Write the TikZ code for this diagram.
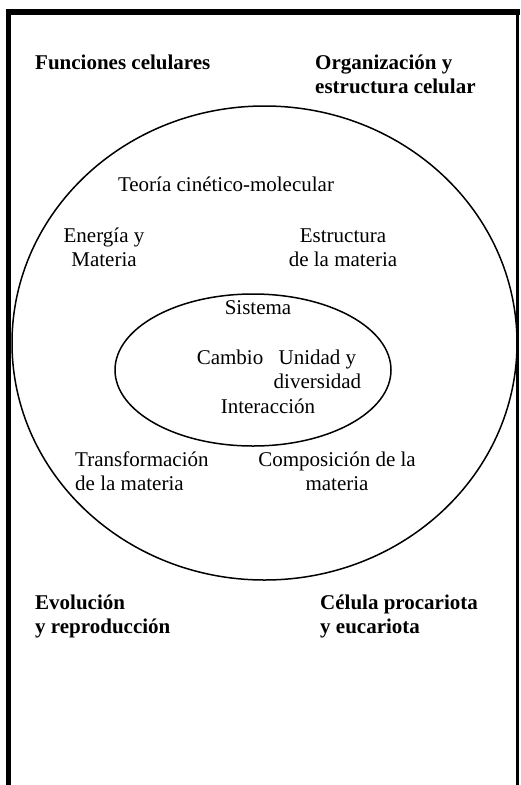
\documentclass[tikz,border=0pt]{standalone}
\usepackage{fontspec}
\setmainfont{Liberation Serif}
\usetikzlibrary{positioning,shapes.geometric}

\begin{document}
\begin{tikzpicture}[x=1pt,y=-1pt,node distance=4pt,
    every node/.style={inner sep=0pt,text height=15pt,text depth=5pt,font=\fontsize{21}{24}\selectfont},
    topic/.style={font=\fontsize{21}{24}\selectfont\bfseries,anchor=west},
    ring/.style={draw,ellipse,line width=1.5pt,text height=0pt,text depth=0pt}]
    \useasboundingbox (0,0) rectangle (520,785);
    \draw[line width=6pt] (6,12) -- (520,12);
    \draw[line width=5pt] (8.5,9) -- (8.5,785);
    \draw[line width=3pt] (517.5,9) -- (517.5,785);

    \node [ring,minimum width=505pt,minimum height=474pt] (outer) at (264.5,343) {};
    \node [ring,minimum width=276pt,minimum height=152pt] (inner) at (253,370) {};

    \node [topic] (func) at (35,64) {Funciones celulares};
    \node [topic] (org) at (315,64) {Organización y};
    \node [topic,below=of org.south west,anchor=north west] (orgb) {estructura celular};
    \node [topic] (evo) at (35,604) {Evolución};
    \node [topic,below=of evo.south west,anchor=north west] (evob) {y reproducción};
    \node [topic] (cel) at (320,604) {Célula procariota};
    \node [topic,below=of cel.south west,anchor=north west] (celb) {y eucariota};

    \node (teoria) at (226,186) {Teoría cinético-molecular};
    \node (energia) at (104,237) {Energía y};
    \node [below=of energia] (materia) {Materia};
    \node (estruct) at (343,237) {Estructura};
    \node [below=of estruct] (estructb) {de la materia};

    \node (sistema) at (258,309) {Sistema};
    \node (cambio) at (230,359) {Cambio};
    \node [right=15pt of cambio] (unidad) {Unidad y};
    \node [below=of unidad] (divers) {diversidad};
    \node (interac) at (268,408) {Interacción};

    \node [anchor=west] (transf) at (75,461) {Transformación};
    \node [below=of transf.south west,anchor=north west] (transfb) {de la materia};
    \node (compos) at (337,461) {Composición de la};
    \node [below=of compos] (composb) {materia};
\end{tikzpicture}
\end{document}
